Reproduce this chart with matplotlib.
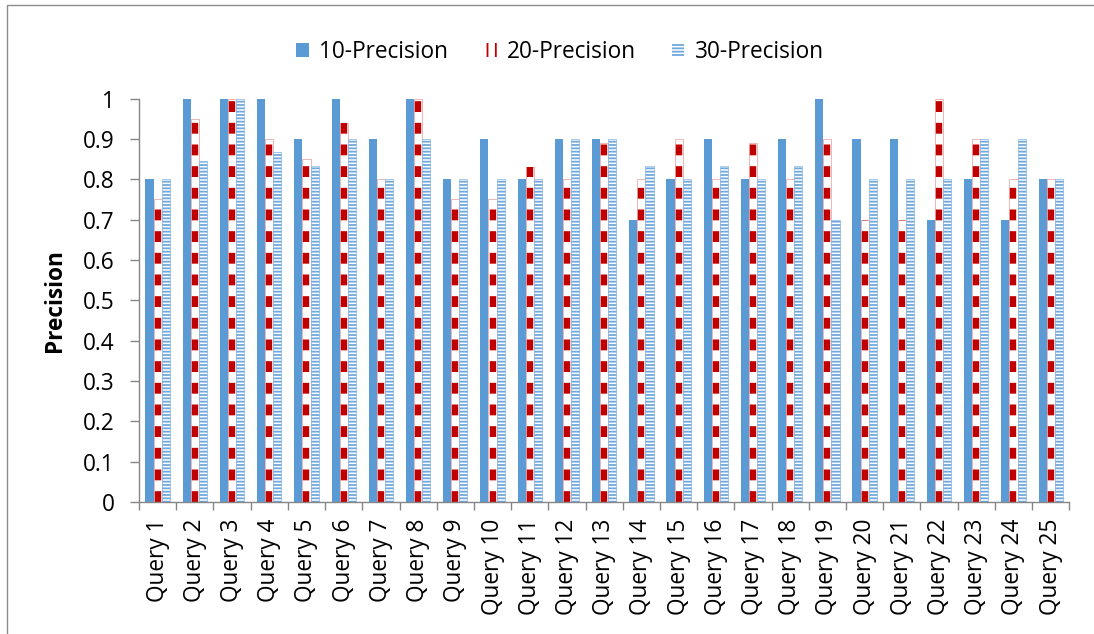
import numpy as np
import matplotlib
matplotlib.use("Agg")
import matplotlib.pyplot as plt
from matplotlib.patches import Patch, Rectangle

plt.rcParams["font.family"] = ["Open Sans", "DejaVu Sans"]
plt.rcParams["lines.scale_dashes"] = False
plt.rcParams["hatch.linewidth"] = 1.3

# Query labels and precision values per cut-off
queries = [f"Query {i}" for i in range(1, 26)]
p10 = [0.8, 1.0, 1.0, 1.0, 0.9, 1.0, 0.9, 1.0, 0.8, 0.9, 0.8, 0.9, 0.9,
       0.7, 0.8, 0.9, 0.8, 0.9, 1.0, 0.9, 0.9, 0.7, 0.8, 0.7, 0.8]
p20 = [0.75, 0.95, 1.0, 0.9, 0.85, 0.94, 0.8, 1.0, 0.75, 0.75, 0.83, 0.8, 0.89,
       0.8, 0.9, 0.8, 0.89, 0.8, 0.9, 0.7, 0.7, 1.0, 0.9, 0.8, 0.8]
p30 = [0.8, 0.846, 1.0, 0.867, 0.833, 0.9, 0.8, 0.9, 0.8, 0.8, 0.8, 0.9, 0.9,
       0.833, 0.8, 0.833, 0.8, 0.833, 0.7, 0.8, 0.8, 0.8, 0.9, 0.9, 0.8]
series_names = ["10-Precision", "20-Precision", "30-Precision"]
yticks = [0, 0.1, 0.2, 0.3, 0.4, 0.5, 0.6, 0.7, 0.8, 0.9, 1]

BLUE = "#5B9BD5"
RED = "#C00000"
PINK = "#EFA9A9"
STRIPE = "#6FA8DC"
AXIS = "#868686"
FS = 16.3

fig = plt.figure(figsize=(10.94, 6.34), dpi=100)
ax = fig.add_axes([0.1271, 0.2082, 0.8503, 0.6364])

x = np.arange(len(queries))
w = 0.218

# solid 10-precision bars
ax.bar(x - w, p10, width=w, color=BLUE, linewidth=0)

# 20-precision bars: white body with a dashed red core
ax.bar(x, p20, width=w, color="white", edgecolor=PINK, linewidth=0.6)
ax.vlines(x, 0, p20, colors=RED, linewidth=4.6, linestyles=(0, (7.8, 7.8)),
          capstyle="butt")

# 30-precision bars: narrow horizontal stripes
ax.bar(x + w, p30, width=w, color="white", edgecolor=STRIPE, linewidth=0.4,
       hatch="-----")

ax.set_xlim(-0.5, len(queries) - 0.5)
ax.set_ylim(0, 1)

for side in ("top", "right"):
    ax.spines[side].set_visible(False)
for side in ("left", "bottom"):
    ax.spines[side].set_color(AXIS)
    ax.spines[side].set_linewidth(1.0)

ax.set_yticks(yticks)
ax.set_yticklabels([f"{v:g}" for v in yticks])
ax.tick_params(axis="y", direction="out", length=6.5, width=1.0, color=AXIS,
               pad=11, labelsize=FS, labelcolor="black")

# tick marks between categories, labels at category centres
ax.set_xticks(np.arange(-0.5, len(queries)), minor=False)
ax.set_xticklabels([])
ax.tick_params(axis="x", which="major", direction="out", length=5.5,
               width=1.0, color=AXIS)
ax.set_xticks(x, minor=True)
ax.set_xticklabels(queries, minor=True, rotation=90, ha="center", va="top")
ax.tick_params(axis="x", which="minor", length=0, pad=12, labelsize=FS)

ax.set_ylabel("Precision", fontsize=FS, fontweight="bold")
ax.yaxis.set_label_coords(-0.0774, 0.5)

handles = [
    Patch(facecolor=BLUE, edgecolor=BLUE, linewidth=0),
    Patch(facecolor="white", edgecolor=RED, linewidth=0, hatch="||"),
    Patch(facecolor="white", edgecolor=STRIPE, linewidth=0, hatch="-----"),
]
fig.legend(handles, series_names, loc="center", ncol=3,
           bbox_to_anchor=(560 / 1094, 1 - 52 / 634), frameon=False,
           fontsize=FS, handlelength=0.55, handleheight=0.6,
           handletextpad=0.45, columnspacing=1.6)

# chart-area frame
fig.patches.append(Rectangle((6.5 / 1094, -0.1), 1.2, 1.1 - 5.5 / 634,
                             transform=fig.transFigure, fill=False,
                             edgecolor="#8C8C8C", linewidth=1.0))

fig.savefig("out.png", dpi=100)
